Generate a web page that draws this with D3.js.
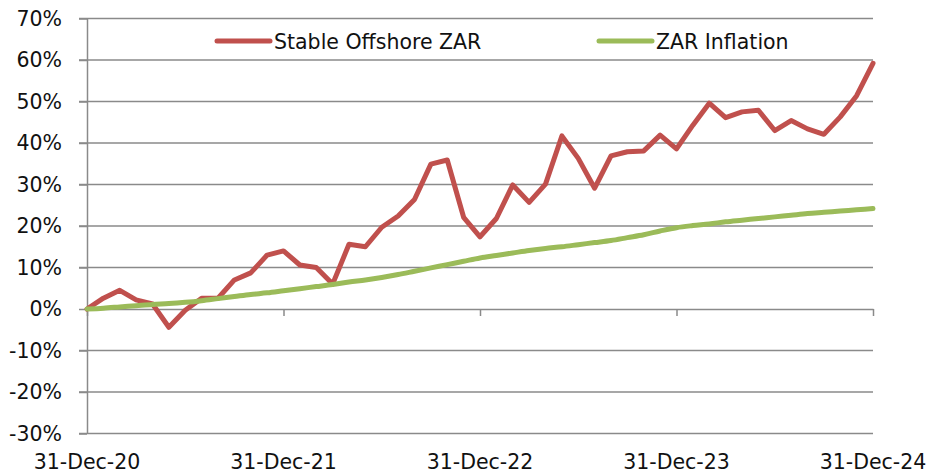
<!DOCTYPE html>
<html>
<head>
<meta charset="utf-8">
<script src="https://cdn.jsdelivr.net/npm/d3@7"></script>
<style>
  body { margin: 0; background: #fff; }
  svg text { font-family: "DejaVu Sans", sans-serif; fill: #111; }
</style>
</head>
<body>
<svg id="chart" width="928" height="474"></svg>
<script>
// monthly values, 31-Dec-20 .. 31-Dec-24 (49 points)
var offshore = [0, 2.6, 4.5, 2.2, 1.2, -4.4, -0.3, 2.6, 2.6, 7.0, 8.7, 13.0,
  14.0, 10.6, 10.0, 6.0, 15.6, 15.0, 19.7, 22.4, 26.4, 34.9, 35.9, 22.1,
  17.4, 21.8, 29.9, 25.7, 30.1, 41.7, 36.3, 29.1, 36.9, 37.9, 38.1, 41.9,
  38.6, 44.3, 49.6, 46.1, 47.5, 47.9, 43.0, 45.4, 43.4, 42.1, 46.3, 51.4, 59.2];
var inflation = [0, 0.2, 0.5, 0.8, 1.1, 1.3, 1.6, 2.0, 2.5, 3.0, 3.5, 3.9,
  4.4, 4.9, 5.4, 5.9, 6.5, 7.0, 7.6, 8.3, 9.1, 9.9, 10.7, 11.5,
  12.3, 12.9, 13.5, 14.1, 14.6, 15.0, 15.5, 16.0, 16.5, 17.2, 17.9, 18.8,
  19.6, 20.1, 20.5, 21.0, 21.4, 21.8, 22.2, 22.6, 23.0, 23.3, 23.6, 23.9, 24.2];
var xTickIdx = [0, 12, 24, 36, 48];
var xTickLabels = ["31-Dec-20", "31-Dec-21", "31-Dec-22", "31-Dec-23", "31-Dec-24"];
var yTicks = [-30, -20, -10, 0, 10, 20, 30, 40, 50, 60, 70];
var seriesNames = ["Stable Offshore ZAR", "ZAR Inflation"];
var seriesColors = ["#C0504D", "#9BBB59"];

(function() {
  var svg = d3.select("#chart");
  var plotL = 87, plotR = 873, plotT = 18.5, plotB = 433.5;
  var gridColor = "#8a8a8a";

  var x = d3.scaleLinear().domain([0, 48]).range([plotL, plotR]);
  var y = d3.scaleLinear().domain([-30, 70]).range([plotB, plotT]);

  // gridlines
  svg.append("g").selectAll("line")
    .data(yTicks.filter(function(d) { return d !== 0; }))
    .enter().append("line")
    .attr("x1", plotL - 8).attr("x2", plotR)
    .attr("y1", function(d) { return y(d); }).attr("y2", function(d) { return y(d); })
    .attr("stroke", gridColor).attr("stroke-width", 1.5);

  // y axis
  var yAxis = svg.append("g")
    .attr("transform", "translate(" + plotL + ",0)")
    .call(d3.axisLeft(y).tickValues(yTicks).tickSize(8).tickSizeOuter(0).tickPadding(17)
      .tickFormat(function(d) { return d + "%"; }));
  yAxis.select(".domain").attr("stroke", gridColor).attr("stroke-width", 1.5);
  yAxis.selectAll(".tick line").attr("stroke", gridColor).attr("stroke-width", 1.5);
  yAxis.selectAll("text").attr("font-size", 20.5)
    .style("font-family", "DejaVu Sans").attr("fill", "#111");

  // x axis at zero
  var xAxis = svg.append("g")
    .attr("transform", "translate(0," + y(0) + ")")
    .call(d3.axisBottom(x).tickValues(xTickIdx).tickSize(7).tickSizeOuter(0).tickFormat(""));
  xAxis.select(".domain").attr("stroke", gridColor).attr("stroke-width", 1.5);
  xAxis.selectAll(".tick line").attr("stroke", gridColor).attr("stroke-width", 1.5);

  // x labels at bottom
  svg.append("g").selectAll("text")
    .data(xTickIdx)
    .enter().append("text")
    .attr("x", function(d) { return x(d); })
    .attr("y", 469)
    .attr("text-anchor", "middle")
    .attr("font-size", 20.5)
    .text(function(d, i) { return xTickLabels[i]; });

  // lines
  var redLine = d3.line()
    .x(function(d, i) { return x(i); })
    .y(function(d) { return y(d); });
  var greenLine = d3.line()
    .x(function(d, i) { return x(i); })
    .y(function(d) { return y(d); })
    .curve(d3.curveMonotoneX);

  svg.append("path").datum(offshore)
    .attr("d", redLine)
    .attr("fill", "none").attr("stroke", seriesColors[0])
    .attr("stroke-width", 5).attr("stroke-linejoin", "round").attr("stroke-linecap", "round");
  svg.append("path").datum(inflation)
    .attr("d", greenLine)
    .attr("fill", "none").attr("stroke", seriesColors[1])
    .attr("stroke-width", 5).attr("stroke-linejoin", "round").attr("stroke-linecap", "round");

  // legend
  var legendX = [217, 599];
  var legend = svg.append("g").selectAll("g")
    .data(seriesNames)
    .enter().append("g")
    .attr("transform", function(d, i) { return "translate(" + legendX[i] + ",41)"; });
  legend.append("line")
    .attr("x1", 0).attr("x2", 53)
    .attr("stroke", function(d, i) { return seriesColors[i]; })
    .attr("stroke-width", 5).attr("stroke-linecap", "round");
  legend.append("text")
    .attr("x", 57).attr("y", 7.5)
    .attr("font-size", 20.5)
    .text(function(d) { return d; });
})();
</script>
</body>
</html>
